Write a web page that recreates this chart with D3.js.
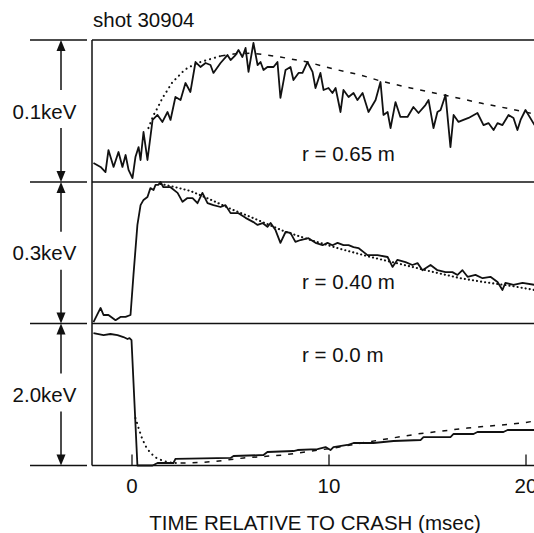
<!DOCTYPE html>
<html>
<head>
<meta charset="utf-8">
<script src="https://cdn.jsdelivr.net/npm/d3@7"></script>
<style>
  html, body { margin: 0; padding: 0; background: #fff; }
  svg { display: block; font-family: "Liberation Sans", Arial, Helvetica, sans-serif; }
</style>
</head>
<body>
<div id="chart"></div>
<script>
// ── Te traces after sawtooth crash, shot 30904 ──
const shotLabel    = "shot 30904";
const scaleLabels  = ["0.1keV", "0.3keV", "2.0keV"];
const scaleMax     = [0.1, 0.3, 2.0];          // keV spanned by each panel
const radiusLabels = ["r = 0.65 m", "r = 0.40 m", "r = 0.0 m"];
const timeTicks    = [0, 10, 20];
const xTitle       = "TIME RELATIVE TO CRASH (msec)";

// [time (msec), Te (keV)]
const te065 = [
  [-1.93,0.0134],[-1.57,0.0106],[-1.32,0.0070],[-1.17,0.0225],[-0.91,0.0106],[-0.66,0.0211],
  [-0.46,0.0106],[-0.30,0.0190],[-0.15,0.0085],[0.05,0.0028],[0.20,0.0176],[0.36,0.0246],
  [0.46,0.0155],[0.61,0.0352],[0.81,0.0155],[1.07,0.0437],[1.32,0.0472],[1.57,0.0423],
  [1.83,0.0493],[1.98,0.0437],[2.23,0.0599],[2.49,0.0577],[2.74,0.0697],[2.99,0.0634],
  [3.25,0.0845],[3.50,0.0810],[3.76,0.0838],[4.01,0.0824],[4.16,0.0768],[4.52,0.0838],
  [4.87,0.0894],[5.03,0.0859],[5.28,0.0894],[5.43,0.0930],[5.63,0.0880],[5.79,0.0944],
  [5.94,0.0775],[6.19,0.0979],[6.40,0.0824],[6.55,0.0845],[6.70,0.0789],[6.90,0.0810],
  [7.21,0.0810],[7.41,0.0845],[7.56,0.0592],[7.82,0.0789],[8.07,0.0810],[8.22,0.0718],
  [8.48,0.0768],[8.68,0.0768],[8.93,0.0845],[9.19,0.0775],[9.34,0.0662],[9.59,0.0768],
  [9.75,0.0648],[10.00,0.0662],[10.20,0.0627],[10.36,0.0662],[10.61,0.0493],[10.76,0.0648],
  [11.02,0.0599],[11.27,0.0627],[11.47,0.0577],[11.73,0.0627],[12.03,0.0493],[12.39,0.0577],
  [12.64,0.0704],[12.79,0.0472],[13.00,0.0493],[13.15,0.0380],[13.40,0.0563],[13.65,0.0458],
  [14.01,0.0458],[14.31,0.0528],[14.57,0.0486],[14.92,0.0542],[15.08,0.0577],[15.33,0.0380],
  [15.53,0.0493],[15.69,0.0507],[15.94,0.0613],[16.19,0.0246],[16.35,0.0472],[16.60,0.0423],
  [16.85,0.0437],[17.11,0.0451],[17.56,0.0486],[17.87,0.0401],[18.12,0.0415],[18.38,0.0366],
  [18.58,0.0415],[18.83,0.0401],[19.14,0.0472],[19.39,0.0451],[19.59,0.0366],[19.75,0.0437],
  [20.00,0.0507],[20.46,0.0401]
];
const fit065Rise = [
  [0.86,0.0380],[1.12,0.0472],[1.32,0.0521],[1.57,0.0592],[1.83,0.0648],[2.08,0.0704],
  [2.34,0.0739],[2.59,0.0775],[2.84,0.0803],[3.15,0.0824],[3.50,0.0845],[4.01,0.0866],
  [4.52,0.0887]
];
const fit065Decay = [
  [4.52,0.0887],[5.18,0.0901],[6.04,0.0908],[6.90,0.0894],[7.56,0.0880],[8.93,0.0845],
  [10.25,0.0796],[11.62,0.0754],[12.64,0.0711],[14.16,0.0662],[15.84,0.0613],[17.72,0.0556],
  [19.75,0.0500],[20.46,0.0479]
];

const te040 = [
  [-1.93,0.003],[-1.57,0.033],[-1.42,0.018],[-1.17,0.018],[-0.81,0.007],[-0.56,0.014],
  [-0.30,0.014],[-0.05,0.018],[0.10,0.103],[0.30,0.209],[0.46,0.251],[0.61,0.262],
  [0.81,0.268],[0.96,0.287],[1.12,0.283],[1.22,0.294],[1.37,0.294],[1.47,0.300],
  [1.62,0.289],[1.98,0.289],[2.34,0.277],[2.59,0.258],[2.84,0.266],[3.10,0.266],
  [3.35,0.255],[3.60,0.277],[3.86,0.255],[4.16,0.251],[4.52,0.247],[4.77,0.251],
  [5.03,0.234],[5.43,0.234],[5.79,0.224],[6.19,0.215],[6.40,0.209],[6.65,0.213],
  [6.90,0.205],[7.06,0.213],[7.31,0.198],[7.56,0.171],[7.82,0.194],[8.07,0.192],
  [8.32,0.173],[8.58,0.177],[8.98,0.181],[9.34,0.171],[9.70,0.166],[9.95,0.171],
  [10.20,0.166],[10.46,0.171],[10.76,0.166],[11.02,0.166],[11.27,0.162],[11.52,0.160],
  [11.98,0.145],[12.49,0.145],[13.00,0.141],[13.25,0.120],[13.50,0.135],[13.91,0.130],
  [14.26,0.124],[14.52,0.128],[14.77,0.113],[15.18,0.124],[15.53,0.113],[15.94,0.109],
  [16.29,0.109],[16.55,0.103],[16.80,0.113],[17.06,0.099],[17.46,0.103],[17.82,0.096],
  [18.22,0.099],[18.58,0.088],[18.83,0.071],[18.98,0.086],[19.39,0.082],[19.85,0.086],
  [20.46,0.082]
];
const fit040 = [
  [1.47,0.296],[2.23,0.289],[2.99,0.281],[3.50,0.272],[4.26,0.258],[5.03,0.243],
  [6.04,0.226],[7.72,0.196],[9.09,0.177],[10.61,0.158],[12.13,0.141],[13.65,0.126],
  [15.33,0.109],[16.70,0.096],[17.87,0.088],[19.24,0.080],[20.46,0.071]
];

const te000 = [
  [-1.93,1.866],[-1.42,1.837],[-1.07,1.852],[-0.71,1.837],[-0.41,1.809],[-0.20,1.781],
  [-0.10,1.795],[0.00,1.767],[0.30,0.000],[1.07,0.000],[1.32,0.035],[2.13,0.035],
  [2.23,0.092],[5.03,0.106],[5.18,0.134],[6.70,0.148],[6.90,0.190],[8.22,0.204],
  [8.43,0.218],[9.44,0.232],[9.85,0.260],[10.10,0.218],[10.25,0.260],[10.96,0.289],
  [11.27,0.317],[12.28,0.317],[13.30,0.345],[14.67,0.359],[14.82,0.401],[16.19,0.401],
  [16.35,0.444],[17.36,0.444],[17.56,0.472],[18.88,0.472],[19.09,0.500],[20.46,0.500]
];
const fit000Drop = [
  [0.20,0.669],[0.36,0.528],[0.51,0.401],[0.71,0.275],[0.96,0.176],[1.27,0.106],
  [1.62,0.063],[2.08,0.035],[2.49,0.035]
];
const fit000Rise = [
  [2.49,0.035],[2.84,0.035],[4.16,0.054],[5.69,0.106],[7.72,0.148],[10.25,0.246],
  [11.98,0.331],[14.52,0.444],[17.06,0.528],[19.85,0.598],[20.46,0.627]
];

// ── layout ──
const width = 534, height = 533;
const bands = [40, 182, 323.5, 465.5];   // panel boundaries (px)
const frameX = 92, arrowX = 61;
const ink = "#111";
const fs = 20.5;

const svg = d3.select("#chart").append("svg")
  .attr("width", width).attr("height", height)
  .attr("viewBox", `0 0 ${width} ${height}`);

const x = d3.scaleLinear().domain([-2, 20.5]).range([92.1, 535.35]);

// frame
bands.forEach(b => {
  svg.append("line").attr("x1", 30).attr("x2", 87).attr("y1", b).attr("y2", b)
    .attr("stroke", ink).attr("stroke-width", 1.3);
  svg.append("line").attr("x1", frameX).attr("x2", width).attr("y1", b).attr("y2", b)
    .attr("stroke", ink).attr("stroke-width", 1.3);
});
svg.append("line").attr("x1", frameX).attr("x2", frameX)
  .attr("y1", bands[0]).attr("y2", bands[3])
  .attr("stroke", ink).attr("stroke-width", 1.5);

svg.append("text").attr("x", 93).attr("y", 27)
  .attr("font-size", fs).attr("fill", ink).text(shotLabel);

const panels = [
  { solid: te065, dotted: [fit065Rise], dashed: [fit065Decay], labelY: 161 },
  { solid: te040, dotted: [fit040],     dashed: [],            labelY: 289 },
  { solid: te000, dotted: [fit000Drop], dashed: [fit000Rise],  labelY: 362 }
];

panels.forEach((p, i) => {
  const top = bands[i], bottom = bands[i + 1];
  const y = d3.scaleLinear().domain([0, scaleMax[i]]).range([bottom, top]);
  const line = d3.line().x(d => x(d[0])).y(d => y(d[1]));
  const g = svg.append("g");

  p.dotted.forEach(s => g.append("path").attr("d", line(s))
    .attr("fill", "none").attr("stroke", ink).attr("stroke-width", 2.1)
    .attr("stroke-linecap", "round").attr("stroke-dasharray", i === 1 ? "0.1,4" : "0.1,5"));
  p.dashed.forEach(s => g.append("path").attr("d", line(s))
    .attr("fill", "none").attr("stroke", ink).attr("stroke-width", 1.5)
    .attr("stroke-dasharray", "5,7"));
  g.append("path").attr("d", line(p.solid))
    .attr("fill", "none").attr("stroke", ink).attr("stroke-width", 1.8)
    .attr("stroke-linejoin", "round");

  g.append("text").attr("x", 302).attr("y", p.labelY)
    .attr("font-size", fs).attr("fill", ink).text(radiusLabels[i]);

  // scale arrow on the left
  const mid = (top + bottom) / 2;
  svg.append("line").attr("x1", arrowX).attr("x2", arrowX)
    .attr("y1", top + 8).attr("y2", mid - 21)
    .attr("stroke", ink).attr("stroke-width", 1.5);
  svg.append("line").attr("x1", arrowX).attr("x2", arrowX)
    .attr("y1", mid + 17).attr("y2", bottom - 8)
    .attr("stroke", ink).attr("stroke-width", 1.5);
  svg.append("path").attr("d", `M${arrowX},${top}L${arrowX - 4.5},${top + 11}L${arrowX + 4.5},${top + 11}Z`)
    .attr("fill", ink);
  svg.append("path").attr("d", `M${arrowX},${bottom}L${arrowX - 4.5},${bottom - 11}L${arrowX + 4.5},${bottom - 11}Z`)
    .attr("fill", ink);
  svg.append("text").attr("x", 44.5).attr("y", mid + 7.5)
    .attr("text-anchor", "middle").attr("font-size", fs).attr("fill", ink)
    .text(scaleLabels[i]);
});

// time axis
const axis = d3.axisBottom(x).tickValues(timeTicks).tickSize(-11).tickSizeOuter(0)
  .tickPadding(13).tickFormat(d3.format("d"));
svg.append("g").attr("transform", `translate(0,${bands[3]})`).call(axis)
  .call(g => g.select(".domain").remove())
  .call(g => g.selectAll(".tick line").attr("stroke", ink).attr("stroke-width", 1.3))
  .call(g => g.selectAll(".tick text").attr("fill", ink)
    .attr("font-size", fs).attr("font-family", "\"Liberation Sans\", Arial, sans-serif"));

svg.append("text").attr("x", 315).attr("y", 530)
  .attr("text-anchor", "middle").attr("font-size", fs).attr("fill", ink)
  .text(xTitle);
</script>
</body>
</html>
